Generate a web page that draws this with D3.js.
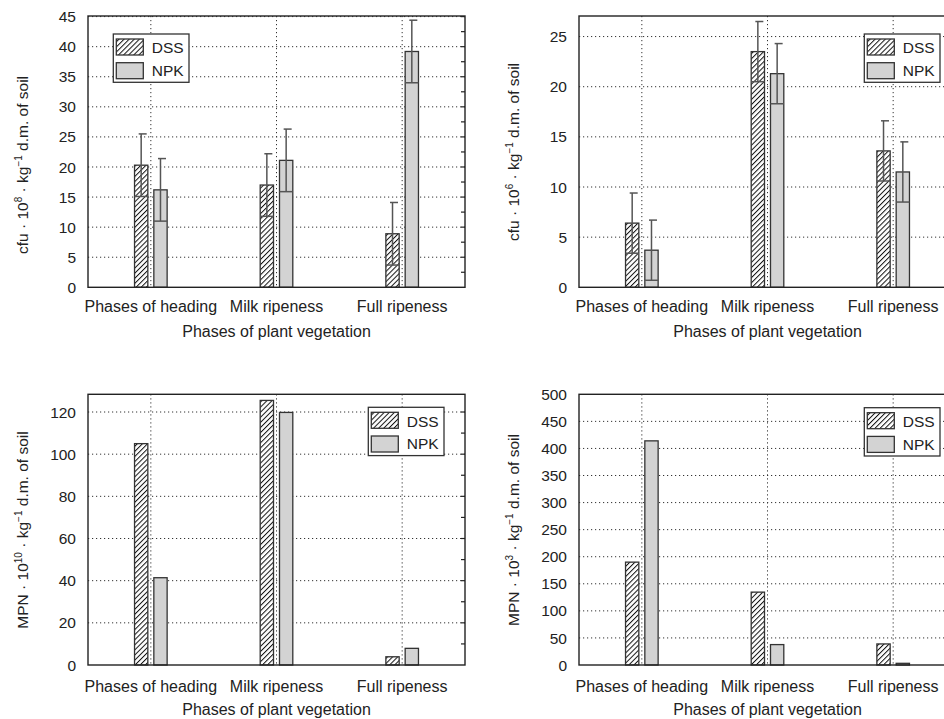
<!DOCTYPE html>
<html>
<head>
<meta charset="utf-8">
<script src="https://cdn.jsdelivr.net/npm/d3@7"></script>
<style>
  body { margin: 0; background: #fff; }
  svg { display: block; font-family: "Liberation Sans", Arial, sans-serif; }
</style>
</head>
<body>
<div id="chart"></div>
<script>
const phases = ['Phases of heading', 'Milk ripeness', 'Full ripeness']
const series = ['DSS', 'NPK']

// cfu · 10^8 (top left)
const cfu8DSS = [20.3, 17.0, 8.9]
const cfu8NPK = [16.2, 21.1, 39.2]
const cfu8ErrDSS = [5.2, 5.2, 5.2]
const cfu8ErrNPK = [5.2, 5.2, 5.2]
const cfu8Ticks = [0, 5, 10, 15, 20, 25, 30, 35, 40, 45]

// cfu · 10^6 (top right)
const cfu6DSS = [6.4, 23.5, 13.6]
const cfu6NPK = [3.7, 21.3, 11.5]
const cfu6ErrDSS = [3.0, 3.0, 3.0]
const cfu6ErrNPK = [3.0, 3.0, 3.0]
const cfu6Ticks = [0, 5, 10, 15, 20, 25]

// MPN · 10^10 (bottom left)
const mpn10DSS = [105.0, 125.5, 3.9]
const mpn10NPK = [41.4, 119.8, 7.9]
const mpn10Ticks = [0, 20, 40, 60, 80, 100, 120]

// MPN · 10^3 (bottom right)
const mpn3DSS = [190.0, 134.6, 38.9]
const mpn3NPK = [414.0, 37.7, 3.1]
const mpn3Ticks = [0, 50, 100, 150, 200, 250, 300, 350, 400, 450, 500]

const xTitle = 'Phases of plant vegetation'

const panels = [
  { left: 88, top: 16, bottom: 287.3, max: 45.1, unit: 'cfu', exp: '8',
    dss: cfu8DSS, npk: cfu8NPK, errD: cfu8ErrDSS, errN: cfu8ErrNPK, ticks: cfu8Ticks,
    legend: [113.3, 34], titleY: 165, tickDy: 24.4, titleDy: 50 },
  { left: 579, top: 16, bottom: 287.3, max: 27.05, unit: 'cfu', exp: '6',
    dss: cfu6DSS, npk: cfu6NPK, errD: cfu6ErrDSS, errN: cfu6ErrNPK, ticks: cfu6Ticks,
    legend: [864.3, 34], titleY: 152, tickDy: 24.4, titleDy: 50 },
  { left: 88, top: 394.3, bottom: 665, max: 128.4, unit: 'MPN', exp: '10',
    dss: mpn10DSS, npk: mpn10NPK, ticks: mpn10Ticks,
    legend: [368.3, 407.3], titleY: 530, tickDy: 26.6, titleDy: 50 },
  { left: 579, top: 394.3, bottom: 665, max: 500, unit: 'MPN', exp: '3',
    dss: mpn3DSS, npk: mpn3NPK, ticks: mpn3Ticks,
    legend: [864.3, 407.7], titleY: 530, tickDy: 26.6, titleDy: 50 }
]

const W = 944, H = 719
const plotW = 377
const barW = 13.3
const gap = 3
const ink = '#222'

const svg = d3.select('#chart').append('svg')
  .attr('width', W)
  .attr('height', H)

// hatch for DSS
const defs = svg.append('defs')
defs.append('pattern')
  .attr('id', 'hatch')
  .attr('patternUnits', 'userSpaceOnUse')
  .attr('width', 3.6)
  .attr('height', 3.6)
  .attr('patternTransform', 'rotate(45)')
  .call(p => {
    p.append('rect').attr('width', 3.6).attr('height', 3.6).attr('fill', '#fff')
    p.append('line')
      .attr('x1', 0).attr('y1', 0).attr('x2', 0).attr('y2', 3.6)
      .attr('stroke', '#111').attr('stroke-width', 2)
  })

const fills = { DSS: 'url(#hatch)', NPK: '#d3d3d3' }

panels.forEach(p => {
  const g = svg.append('g')

  const x = d3.scaleBand()
    .domain(phases)
    .range([p.left, p.left + plotW])

  const y = d3.scaleLinear()
    .domain([0, p.max])
    .range([p.bottom, p.top])

  const cx = d => x(d) + x.bandwidth() / 2

  // horizontal dotted grid
  g.append('g')
    .selectAll('line')
    .data(p.ticks.filter(t => t > 0 && t < p.max))
    .enter()
    .append('line')
    .attr('x1', p.left)
    .attr('x2', p.left + plotW)
    .attr('y1', d => y(d))
    .attr('y2', d => y(d))
    .attr('stroke', '#333')
    .attr('stroke-width', 1)
    .attr('stroke-dasharray', '1.2,2.8')

  // vertical dotted grid at phase centres
  g.append('g')
    .selectAll('line')
    .data(phases)
    .enter()
    .append('line')
    .attr('x1', d => cx(d))
    .attr('x2', d => cx(d))
    .attr('y1', p.top)
    .attr('y2', p.bottom)
    .attr('stroke', '#333')
    .attr('stroke-width', 1)
    .attr('stroke-dasharray', '1.2,2.8')

  // bars
  const rows = []
  phases.forEach((ph, i) => {
    rows.push({ phase: ph, s: 'DSS', v: p.dss[i], e: p.errD ? p.errD[i] : null })
    rows.push({ phase: ph, s: 'NPK', v: p.npk[i], e: p.errN ? p.errN[i] : null })
  })
  const bx = d => d.s === 'DSS' ? cx(d.phase) - gap - barW : cx(d.phase) + gap

  g.append('g')
    .selectAll('rect')
    .data(rows)
    .enter()
    .append('rect')
    .attr('x', bx)
    .attr('y', d => y(d.v))
    .attr('width', barW)
    .attr('height', d => y(0) - y(d.v))
    .attr('fill', d => fills[d.s])
    .attr('stroke', '#333')
    .attr('stroke-width', 1.3)

  // error bars
  const eb = g.append('g')
    .selectAll('g')
    .data(rows.filter(d => d.e != null))
    .enter()
    .append('g')
    .attr('stroke', '#555')
    .attr('stroke-width', 1.5)
  eb.append('line')
    .attr('x1', d => bx(d) + barW / 2)
    .attr('x2', d => bx(d) + barW / 2)
    .attr('y1', d => y(d.v - d.e))
    .attr('y2', d => y(d.v + d.e))
  eb.append('line')
    .attr('x1', d => bx(d) + barW / 2 - 2.5)
    .attr('x2', d => bx(d) + barW / 2 + 5.5)
    .attr('y1', d => y(d.v + d.e))
    .attr('y2', d => y(d.v + d.e))
  eb.append('line')
    .attr('x1', d => bx(d))
    .attr('x2', d => bx(d) + barW)
    .attr('y1', d => y(d.v - d.e))
    .attr('y2', d => y(d.v - d.e))

  // frame
  g.append('rect')
    .attr('x', p.left)
    .attr('y', p.top)
    .attr('width', plotW)
    .attr('height', p.bottom - p.top)
    .attr('fill', 'none')
    .attr('stroke', ink)
    .attr('stroke-width', 1.4)

  // inward ticks on the right edge
  const step = p.ticks[1] - p.ticks[0]
  const minor = d3.range(step / 2, p.max, step / 2)
  g.append('g')
    .selectAll('line')
    .data(minor)
    .enter()
    .append('line')
    .attr('x1', p.left + plotW)
    .attr('x2', p.left + plotW - 4)
    .attr('y1', d => y(d))
    .attr('y2', d => y(d))
    .attr('stroke', ink)
    .attr('stroke-width', 1.2)

  // y tick labels
  g.append('g')
    .selectAll('text')
    .data(p.ticks)
    .enter()
    .append('text')
    .attr('x', p.left - 12)
    .attr('y', d => y(d))
    .attr('dy', '0.36em')
    .attr('text-anchor', 'end')
    .attr('font-size', '15.5px')
    .attr('fill', ink)
    .text(d => d)

  // x tick labels
  g.append('g')
    .selectAll('text')
    .data(phases)
    .enter()
    .append('text')
    .attr('x', d => cx(d))
    .attr('y', p.bottom + p.tickDy)
    .attr('text-anchor', 'middle')
    .attr('font-size', '16px')
    .attr('fill', ink)
    .text(d => d)

  // x title
  g.append('text')
    .attr('x', p.left + plotW / 2)
    .attr('y', p.bottom + p.titleDy)
    .attr('text-anchor', 'middle')
    .attr('font-size', '16px')
    .attr('fill', ink)
    .text(xTitle)

  // y title with superscripts
  const yt = g.append('text')
    .attr('transform', `translate(${p.left - 60},${p.titleY}) rotate(-90)`)
    .attr('text-anchor', 'middle')
    .attr('font-size', '15.5px')
    .attr('fill', ink)
  yt.append('tspan').text(`${p.unit} · 10`)
  yt.append('tspan').attr('font-size', '10px').attr('dy', '-6').text(p.exp)
  yt.append('tspan').attr('dy', '6').text(' · kg')
  yt.append('tspan').attr('font-size', '10px').attr('dy', '-6').text('−1')
  yt.append('tspan').attr('dy', '6').text(' d.m. of soil')

  // legend
  const [lx, ly] = p.legend
  const lg = g.append('g').attr('transform', `translate(${lx},${ly})`)
  lg.append('rect')
    .attr('width', 75.7)
    .attr('height', 48.3)
    .attr('fill', '#fff')
    .attr('stroke', '#333')
    .attr('stroke-width', 1.3)
  series.forEach((s, i) => {
    lg.append('rect')
      .attr('x', 3)
      .attr('y', 5 + i * 23.7)
      .attr('width', 27)
      .attr('height', 16)
      .attr('fill', fills[s])
      .attr('stroke', '#333')
      .attr('stroke-width', 1.3)
    lg.append('text')
      .attr('x', 38.4)
      .attr('y', 19.3 + i * 22.7)
      .attr('font-size', '15.5px')
      .attr('fill', ink)
      .text(s)
  })
})
</script>
</body>
</html>
